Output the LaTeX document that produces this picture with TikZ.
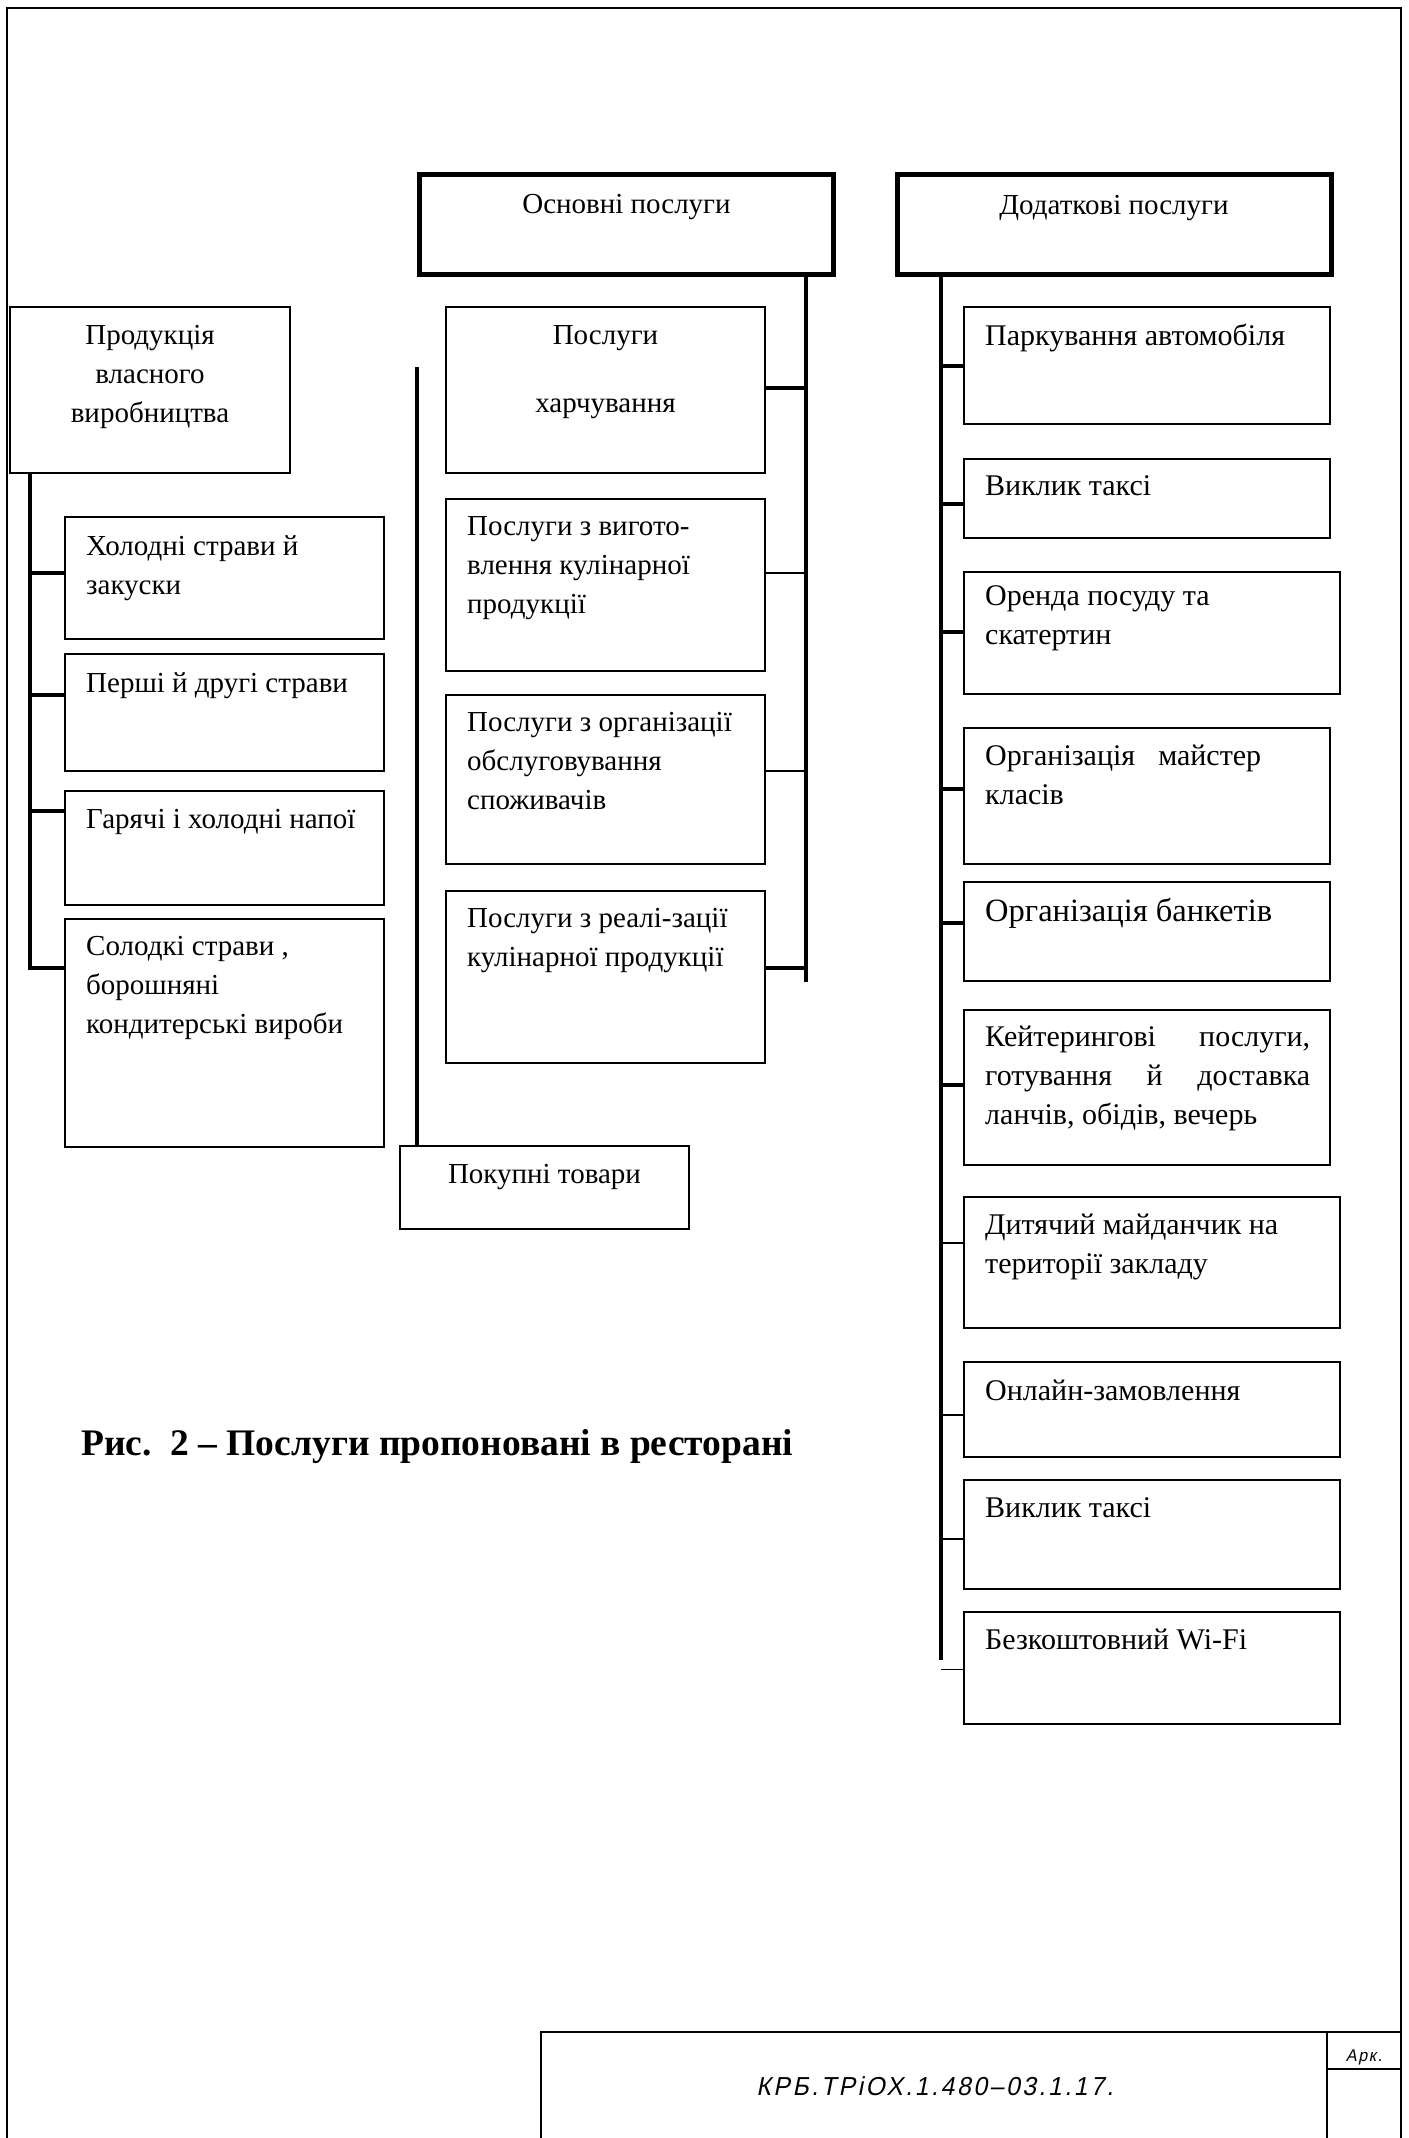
\documentclass[tikz,border=0pt]{standalone}
\usepackage{fontspec}
\setmainfont{Liberation Serif}
\newfontfamily\gostfont[FakeStretch=0.95,FakeSlant=0.2,LetterSpace=10]{Liberation Sans}
\usetikzlibrary{calc}
\newcommand{\LL}[1]{\vtop{\halign{##\hfil\cr#1\crcr}}}
\newcommand{\CL}[1]{\vtop{\halign{\hfil##\hfil\cr#1\crcr}}}
\begin{document}
\begin{tikzpicture}[x=1pt,y=-1pt,
  box/.style={draw, line width=2pt, anchor=north west, inner sep=0pt, outer sep=0pt},
  headbox/.style={draw, line width=5pt, anchor=north west, inner sep=0pt, outer sep=0pt},
  txt/.style={inner sep=0pt, anchor=base west, font=\fontsize{29}{39}\selectfont},
  ctxt/.style={inner sep=0pt, anchor=base, font=\fontsize{29}{39}\selectfont},
  rtxt/.style={inner sep=0pt, anchor=base west, font=\fontsize{30}{39}\selectfont},
  thickc/.style={line width=4pt},
  thinc/.style={line width=1.5pt},
  frameline/.style={line width=2pt}]
\useasboundingbox (0,0) rectangle (1408,2138);
% frame and title block
\draw[frameline] (7,2145) -- (7,8) -- (1401,8) -- (1401,2145);
\draw[frameline] (541,2145) -- (541,2032) -- (1401,2032);
\draw[frameline] (1327,2145) -- (1327,2032);
\draw[frameline] (1327,2069) -- (1401,2069);
\node[inner sep=0pt, anchor=base, font=\gostfont\fontsize{26}{30}\selectfont] (code) at (935,2095) {КРБ.ТРіОХ.1.480–03.1.17.};
\node[inner sep=0pt, anchor=base, font=\gostfont\fontsize{17}{20}\selectfont] (ark) at (1364,2061) {Арк.};

% head boxes
\node[headbox, minimum width=414pt, minimum height=100pt] (osn) at (419.5,174.5) {};
\node[headbox, minimum width=434pt, minimum height=100pt] (dod) at (897.5,174.5) {};
\node[ctxt] (tosn) at (626.5,213.5) {Основні послуги};
\node[ctxt] (tdod) at (1114,214) {Додаткові послуги};

% left column
\node[box, minimum width=280pt, minimum height=166pt] (prod) at (10,307) {};
\node[box, minimum width=319pt, minimum height=122pt] (hol) at (65,517) {};
\node[box, minimum width=319pt, minimum height=117pt] (persh) at (65,654) {};
\node[box, minimum width=319pt, minimum height=114pt] (har) at (65,791) {};
\node[box, minimum width=319pt, minimum height=228pt] (sol) at (65,919) {};
\node[ctxt] (tprod) at (150,344.5) {\CL{Продукція\cr власного\cr виробництва}};
\node[txt] (thol) at (86,555) {\LL{Холодні страви й\cr закуски}};
\node[txt] (tpersh) at (86,692.7) {Перші й другі страви};
\node[txt] (thar) at (86,828) {Гарячі і холодні напої};
\node[txt] (tsol) at (86,955) {\LL{Солодкі страви ,\cr борошняні\cr кондитерські вироби}};

% middle column
\node[box, minimum width=319pt, minimum height=166pt] (harch) at (446,307) {};
\node[box, minimum width=319pt, minimum height=172pt] (vyg) at (446,499) {};
\node[box, minimum width=319pt, minimum height=169pt] (org) at (446,695) {};
\node[box, minimum width=319pt, minimum height=172pt] (real) at (446,891) {};
\node[box, minimum width=289pt, minimum height=83pt] (pok) at (400,1146) {};
\node[ctxt] (tharch) at (605.5,344) {\CL{Послуги\cr\noalign{\vskip 29pt}харчування}};
\node[txt] (tvyg) at (467,535) {\LL{Послуги з вигото-\cr влення кулінарної\cr продукції}};
\node[txt] (torg) at (467,731.7) {\LL{Послуги з організації\cr обслуговування\cr споживачів}};
\node[txt] (treal) at (467,927.3) {\LL{Послуги з реалі-зації\cr кулінарної продукції}};
\node[ctxt] (tpok) at (544.5,1183) {Покупні товари};

% right column
\node[box, minimum width=366pt, minimum height=117pt] (park) at (964,307) {};
\node[box, minimum width=366pt, minimum height=79pt] (vykl) at (964,459) {};
\node[box, minimum width=376pt, minimum height=122pt] (orend) at (964,572) {};
\node[box, minimum width=366pt, minimum height=136pt] (maist) at (964,728) {};
\node[box, minimum width=366pt, minimum height=99pt] (bank) at (964,882) {};
\node[box, minimum width=366pt, minimum height=155pt] (keit) at (964,1010) {};
\node[box, minimum width=376pt, minimum height=131pt] (dyt) at (964,1197) {};
\node[box, minimum width=376pt, minimum height=95pt] (onl) at (964,1362) {};
\node[box, minimum width=376pt, minimum height=109pt] (vykltwo) at (964,1480) {};
\node[box, minimum width=376pt, minimum height=112pt] (wifi) at (964,1612) {};
\node[rtxt] (tpark) at (985,345) {Паркування автомобіля};
\node[rtxt] (tvykl) at (985,495) {Виклик таксі};
\node[rtxt] (torend) at (985,605) {\LL{Оренда посуду та\cr скатертин}};
\node[rtxt] (tmaist) at (985,765.6) {\LL{\hbox to 276pt{Організація\hfill майстер}\cr класів}};
\node[rtxt, font=\fontsize{32.5}{39}\selectfont] (tbank) at (985,921.5) {Організація банкетів};
\node[rtxt] (tkeit) at (985,1046.7) {\LL{\hbox to 325pt{Кейтерингові\hfill послуги,}\cr\hbox to 325pt{готування\hfill й\hfill доставка}\cr ланчів, обідів, вечерь}};
\node[rtxt] (tdyt) at (985,1234) {\LL{Дитячий майданчик на\cr території закладу}};
\node[rtxt] (tonl) at (985,1400) {Онлайн-замовлення};
\node[rtxt] (tvykltwo) at (985,1517) {Виклик таксі};
\node[rtxt] (twifi) at (985,1649.5) {Безкоштовний Wi-Fi};

% caption
\node[inner sep=0pt, anchor=base west, font=\bfseries\fontsize{37.5}{44}\selectfont] (cap) at (81,1455) {Рис.\ \ 2 – Послуги пропоновані в ресторані};

% trunk coordinates
\coordinate (lT) at (30,968);
\coordinate (oT) at (806,982);
\coordinate (pT) at (417,367);
\coordinate (rT) at (941,1660);

% left tree
\coordinate (bhol) at ($(hol.north west)+(0,56)$);
\coordinate (bpersh) at ($(persh.north west)+(0,41)$);
\coordinate (bhar) at ($(har.north west)+(0,20)$);
\coordinate (bsol) at ($(sol.north west)+(0,49)$);
\draw[thickc] (prod.south -| lT) -- (bsol -| lT) -- (bsol);
\draw[thickc] (bhol -| lT) -- (bhol);
\draw[thickc] (bpersh -| lT) -- (bpersh);
\draw[thickc] (bhar -| lT) -- (bhar);

% middle tree
\coordinate (bharch) at ($(harch.north east)+(0,81)$);
\coordinate (bvyg) at ($(vyg.north east)+(0,74)$);
\coordinate (borg) at ($(org.north east)+(0,76)$);
\coordinate (breal) at ($(real.north east)+(0,77)$);
\draw[thickc] (osn.south -| oT) -- (oT);
\draw[thickc] (bharch) -- (bharch -| oT);
\draw[thinc] (bvyg) -- (bvyg -| oT);
\draw[thinc] (borg) -- (borg -| oT);
\draw[thickc] (breal) -- (breal -| oT);

% purchased goods
\draw[thickc] (pT) -- (pok.north -| pT);

% right tree
\coordinate (bpark) at ($(park.north west)+(0,59)$);
\coordinate (bvykl) at ($(vykl.north west)+(0,44.6)$);
\coordinate (borend) at ($(orend.north west)+(0,60)$);
\coordinate (bmaist) at ($(maist.north west)+(0,61)$);
\coordinate (bbank) at ($(bank.north west)+(0,40.6)$);
\coordinate (bkeit) at ($(keit.north west)+(0,75)$);
\coordinate (bdyt) at ($(dyt.north west)+(0,46)$);
\coordinate (bonl) at ($(onl.north west)+(0,53)$);
\coordinate (bvykltwo) at ($(vykltwo.north west)+(0,59)$);
\coordinate (bwifi) at ($(wifi.north west)+(0,57.5)$);
\draw[thickc] (dod.south -| rT) -- (rT);
\draw[thickc] (bpark -| rT) -- (bpark);
\draw[thickc] (bvykl -| rT) -- (bvykl);
\draw[thickc] (borend -| rT) -- (borend);
\draw[thickc] (bmaist -| rT) -- (bmaist);
\draw[thickc] (bbank -| rT) -- (bbank);
\draw[thickc] (bkeit -| rT) -- (bkeit);
\draw[thinc] (bdyt -| rT) -- (bdyt);
\draw[thinc] (bonl -| rT) -- (bonl);
\draw[thinc] (bvykltwo -| rT) -- (bvykltwo);
\draw[thinc] (bwifi -| rT) -- (bwifi);
\end{tikzpicture}
\end{document}
